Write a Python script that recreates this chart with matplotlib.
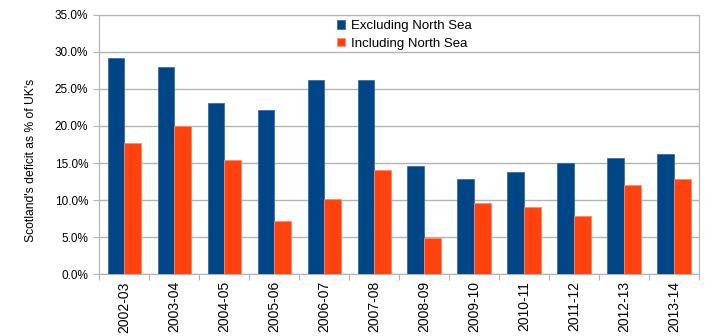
import matplotlib
matplotlib.use('Agg')
import matplotlib.pyplot as plt
import numpy as np

years = ['2002-03', '2003-04', '2004-05', '2005-06', '2006-07', '2007-08',
         '2008-09', '2009-10', '2010-11', '2011-12', '2012-13', '2013-14']
excl_north_sea = [29.1, 28.0, 23.1, 22.15, 26.15, 26.15, 14.6, 12.8, 13.85, 15.0, 15.65, 16.2]
incl_north_sea = [17.65, 19.95, 15.45, 7.2, 10.1, 14.1, 4.9, 9.6, 9.1, 7.85, 12.05, 12.85]

plt.rcParams['font.family'] = ['Liberation Sans', 'DejaVu Sans']

fig = plt.figure(figsize=(7.13, 3.36), dpi=100)
ax = fig.add_axes([99.3 / 713, 1 - 274.3 / 336, (699 - 99.3) / 713, (274.3 - 14.7) / 336])

x = np.arange(len(years))
w = 0.333
ax.bar(x - w / 2, excl_north_sea, w, color='#004586', edgecolor='#3a6ea0', linewidth=0.6,
       label='Excluding North Sea', zorder=3)
ax.bar(x + w / 2, incl_north_sea, w, color='#ff420e', edgecolor='#ff8a6a', linewidth=0.6,
       label='Including North Sea', zorder=3)

ax.set_xlim(-0.5, len(years) - 0.5)
ax.set_ylim(0, 35)
ax.set_yticks(np.arange(0, 36, 5))
ax.set_yticklabels([f'{v:.1f}%' for v in np.arange(0, 36, 5)])
ax.yaxis.grid(True, color='#b3b3b3', linewidth=1, zorder=0)

# ticks sit between categories, labels centred under each pair
ax.set_xticks(np.arange(-0.5, len(years), 1))
ax.set_xticklabels([])
ax.set_xticks(x, minor=True)
ax.set_xticklabels(years, minor=True, rotation=90)
ax.tick_params(axis='x', which='minor', length=0, pad=5)
ax.tick_params(axis='x', which='major', length=4, color='#b3b3b3', direction='out')
ax.tick_params(axis='y', length=4, color='#b3b3b3', pad=4)
ax.tick_params(labelsize=8.5, labelcolor='black')

for s in ax.spines.values():
    s.set_color('#b3b3b3')

ax.set_ylabel("Scotland's deficit as % of UK's", fontsize=8.7)
ax.yaxis.set_label_coords(-0.104, 0.44)

ax.legend(loc='upper left', bbox_to_anchor=(0.383, 1.01), frameon=False, fontsize=9.5,
          handlelength=0.65, handleheight=0.65, handletextpad=0.45, labelspacing=0.42,
          borderaxespad=0.2)

fig.savefig('out.png', dpi=100)
